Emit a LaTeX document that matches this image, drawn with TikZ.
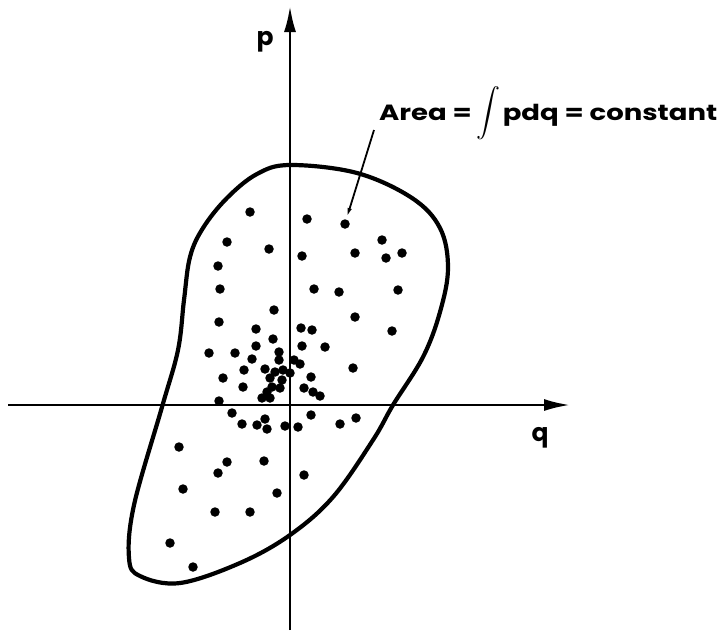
\documentclass[tikz,border=0pt]{standalone}
\usepackage{fontspec}
\setmainfont{Poppins}
\usetikzlibrary{arrows.meta}
\tikzset{
  axis/.style={line width=2.6pt,-{Latex[length=26pt,width=12pt]}},
  bound/.style={line width=4.2pt},
  dot/.style={circle,fill=black,inner sep=0pt,minimum size=9.5pt},
  lbl/.style={inner sep=0pt,font=\fontsize{25}{28}\selectfont\bfseries},
  leader/.style={line width=1.8pt,-{Latex[length=9pt,width=4.5pt]}}
}
\begin{document}
\begin{tikzpicture}[x=1pt,y=-1pt]
\useasboundingbox (0,0) rectangle (728,633);
% axes
\coordinate (qL) at (8,405);
\coordinate (qR) at (570,405);
\coordinate (pB) at (290,630);
\coordinate (pT) at (290,6);
\draw[axis] (qL) -- (qR);
\draw[axis] (pB) -- (pT);
\node[lbl] (plabel) at (265,42) {p};
\node[lbl] (qlabel) at (540,438) {q};
% boundary curve
\draw[bound] plot[smooth cycle, tension=0.6] coordinates {
 (290,165) (357,173) (412,198) (440,228) (448,268) (440,312) (423,357)
 (393,405) (373,440) (333,497) (290,535) (240,563) (180,583) (140,576)
 (129,558) (134,505) (162,407) (178,350) (184,300) (190,257) (203,228)
 (227,198) (257,174)};
% label
\node[inner sep=0pt,anchor=base west,font=\fontsize{22}{26}\selectfont\bfseries] (area) at (379,120)
  {\scalebox{1.25}[1]{Area =}\hspace{5pt}\raisebox{-6pt}{\scalebox{2.4}{$\displaystyle\int$}}\hspace{2pt}\scalebox{1.25}[1]{pdq = constant}};
\coordinate (leadS) at (374,130);
\coordinate (leadE) at (347,217);
\draw[leader] (leadS) -- (leadE);
% dots
\foreach \x/\y in {
 250/212, 227/242, 269/249, 218/266, 220/289, 307/219, 345/224, 382/240,
 302/256, 355/253, 386/258, 402/253, 314/289, 339/292, 398/290, 274/310,
 355/317, 301/328, 312/330, 392/331, 302/346, 325/347, 219/322, 256/329,
 273/339, 256/346, 209/353, 235/353, 353/368, 244/370, 223/378,
 243/387, 311/377, 304/388, 313/392, 320/396, 219/401, 232/413, 242/424,
 257/425, 267/429, 265/419, 285/426, 298/427, 311/415, 340/424, 356/418,
 279/352, 279/360, 294/360, 300/364, 252/359, 265/369, 275/372, 283/370,
 290/373, 270/378, 282/380, 272/387, 280/388, 267/392, 262/398, 270/398,
 179/447, 227/462, 218/473, 264/461, 304/475, 183/489, 277/493, 215/512,
 250/512, 170/543, 193/567}
 \node[dot] (d\x-\y) at (\x,\y) {};
\end{tikzpicture}
\end{document}
